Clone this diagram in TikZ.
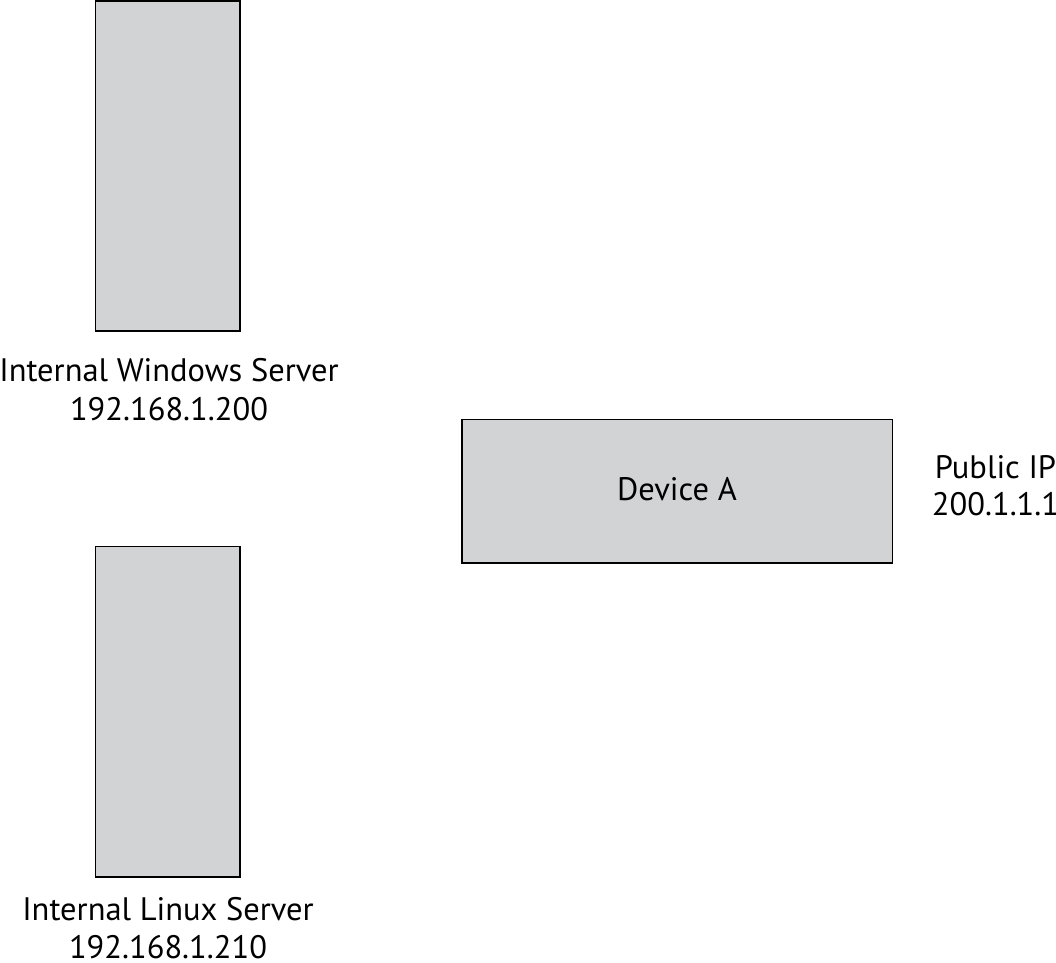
\documentclass[tikz,border=0pt]{standalone}
\usepackage{fontspec}
\setmainfont{PT Sans}
\begin{document}
\begin{tikzpicture}[x=1pt,y=-1pt,
  box/.style={draw=black,fill=boxgray,line width=1.6pt,inner sep=0pt,outer sep=0pt},
  lbl/.style={font=\fontsize{32.5}{40}\selectfont,anchor=base,inner sep=0pt}]
\definecolor{boxgray}{HTML}{D1D3D4}
\useasboundingbox (0,0) rectangle (1056,962);
\node[box,minimum width=144.5pt,minimum height=330pt] (win) at (167.75,166) {};
\node[box,minimum width=144.5pt,minimum height=330.5pt] (lin) at (167.75,711.75) {};
\node[box,minimum width=430.5pt,minimum height=143.5pt] (dev) at (677.25,491.25) {};
\node[lbl] (devt) at (677,500.5) {Device A};
\node[lbl] (win1) at (169,381.5) {Internal Windows Server};
\node[lbl] (win2) at (169,420) {192.168.1.200};
\node[lbl] (lin1) at (168,920) {Internal Linux Server};
\node[lbl] (lin2) at (168,958) {192.168.1.210};
\node[lbl] (pub1) at (995.5,478) {Public IP};
\node[lbl] (pub2) at (995.5,515) {200.1.1.1};
\end{tikzpicture}
\end{document}
